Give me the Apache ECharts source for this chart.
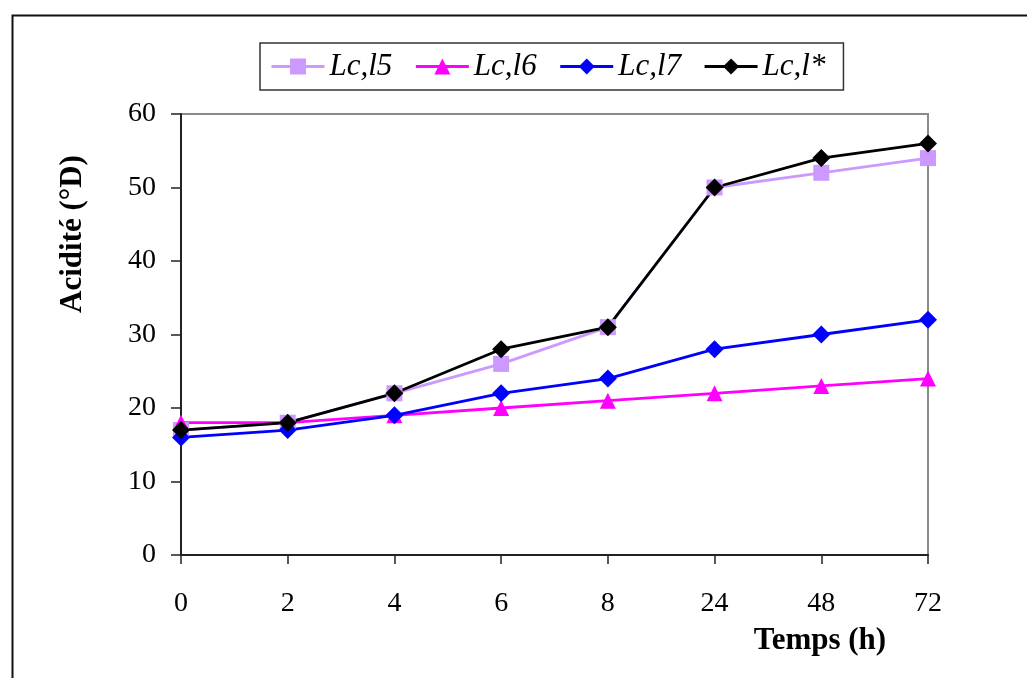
<!DOCTYPE html>
<html>
<head>
<meta charset="utf-8">
<script src="https://cdn.jsdelivr.net/npm/echarts@6/dist/echarts.min.js"></script>
<style>
html,body{margin:0;padding:0;background:#fff;}
#c{width:1027px;height:678px;}
</style>
</head>
<body>
<div id="c"></div>
<script>
const categories = ['0','2','4','6','8','24','48','72'];
const lcl5 = [17, 18, 22, 26, 31, 50, 52, 54];
const lcl6 = [18, 18, 19, 20, 21, 22, 23, 24];
const lcl7 = [16, 17, 19, 22, 24, 28, 30, 32];
const lclStar = [17, 18, 22, 28, 31, 50, 54, 56];
const seriesNames = ['Lc,l5', 'Lc,l6', 'Lc,l7', 'Lc,l*'];
const yTicks = { min: 0, max: 60, interval: 10 };

const FONT = '"Liberation Serif", "Times New Roman", serif';
const chart = echarts.init(document.getElementById('c'), null, { renderer: 'canvas' });

function mk(name, data, color, symbol, size) {
  return {
    name: name, type: 'line', data: data,
    symbol: symbol, symbolSize: size,
    itemStyle: { color: color },
    lineStyle: { color: color, width: 2.8 },
    emphasis: { disabled: true },
    animation: false
  };
}

chart.setOption({
  animation: false,
  backgroundColor: '#fff',
  grid: {
    left: 181, right: 99, top: 114, bottom: 123,
    show: true, borderColor: '#8a8a8a', borderWidth: 2, backgroundColor: 'transparent'
  },
  legend: {
    left: 260, top: 43,
    padding: [8, 18, 8, 10],
    itemGap: 22,
    itemWidth: 53, itemHeight: 20,
    borderColor: '#333', borderWidth: 1.5,
    lineStyle: { width: 3 },
    textStyle: { fontFamily: FONT, fontSize: 31, fontStyle: 'italic', color: '#000' },
    data: seriesNames
  },
  xAxis: {
    type: 'category', data: categories, boundaryGap: false,
    axisLine: { lineStyle: { color: '#222', width: 2 } },
    axisTick: { show: true, alignWithLabel: true, length: 9, lineStyle: { color: '#222', width: 1.5 } },
    axisLabel: { fontFamily: FONT, fontSize: 28, color: '#000', margin: 35 },
    splitLine: { show: false }
  },
  yAxis: {
    type: 'value', min: yTicks.min, max: yTicks.max, interval: yTicks.interval,
    axisLine: { show: true, lineStyle: { color: '#222', width: 2 } },
    axisTick: { show: true, length: 10, lineStyle: { color: '#222', width: 1.5 } },
    axisLabel: { fontFamily: FONT, fontSize: 28, color: '#000', margin: 25 },
    splitLine: { show: false }
  },
  graphic: [
    { type: 'rect', left: 10, top: 13, shape: { width: 1100, height: 700 },
      style: { fill: 'none', stroke: '#111', lineWidth: 2 }, z: -1 },
    { type: 'text', x: 73, y: 234, rotation: Math.PI / 2,
      style: { text: 'Acidité (°D)', font: 'bold 31px ' + FONT, fill: '#000', align: 'center', verticalAlign: 'middle' } },
    { type: 'text', x: 820, y: 641,
      style: { text: 'Temps (h)', font: 'bold 31px ' + FONT, fill: '#000', align: 'center', verticalAlign: 'middle' } }
  ],
  series: [
    mk(seriesNames[0], lcl5, '#CC99FF', 'rect', 16),
    mk(seriesNames[1], lcl6, '#FF00FF', 'triangle', 16),
    mk(seriesNames[2], lcl7, '#0000FF', 'diamond', 18),
    mk(seriesNames[3], lclStar, '#000000', 'diamond', 18)
  ]
});
</script>
</body>
</html>
